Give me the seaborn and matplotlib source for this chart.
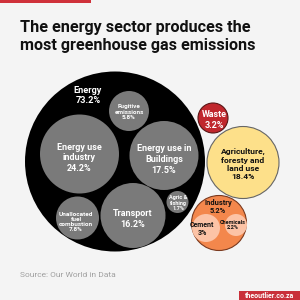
import matplotlib
matplotlib.use("Agg")
import matplotlib.pyplot as plt
import matplotlib.patches as mpatches
import seaborn as sns
import pandas as pd
import numpy as np

# ---- data ----
names = ["Energy", "Industry", "Waste", "Agriculture",
         "Fugitive", "EnergyIndustry", "Buildings", "Transport",
         "Unallocated", "Agric", "Cement", "Chemicals"]
labels = ["Energy", "Industry", "Waste", "Agriculture,\nforesty and\nland use",
          "Fugitive\nemissions", "Energy use\nindustry", "Energy use in\nBuildings",
          "Transport", "Unallocated\nfuel\ncombustion", "Agric &\nfishing",
          "Cement", "Chemicals"]
values = [73.2, 5.2, 3.2, 18.4, 5.8, 24.2, 17.5, 16.2, 7.8, 1.7, 3.0, 2.2]
value_labels = ["73.2%", "5.2%", "3.2%", "18.4%", "5.8%", "24.2%", "17.5%",
                "16.2%", "7.8%", "1.7%", "3%", "2.2%"]

title = "The energy sector produces the\nmost greenhouse gas emissions"
source = "Source: Our World in Data"
brand = "theoutlier.co.za"

# ---- layout (pixel coordinates) ----
cx = [115, 219, 213, 243, 129, 79.5, 164, 133, 77.5, 177.5, 206, 236]
cy = [161.5, 223, 118, 162.5, 111, 154, 155.5, 215.5, 218, 202, 228, 225]
rad = [90, 27.5, 15, 36, 20, 39.5, 34.5, 32.5, 21.5, 11, 14, 11]
fills = ["#000000", "#f3874c", "#c0272d", "#fde08a", "#7a7a7a", "#7a7a7a",
         "#7a7a7a", "#7a7a7a", "#7a7a7a", "#7a7a7a", "#fcc3a6", "#fcc3a6"]
edges = ["#000000", "#7a3a1f", "#5a1616", "#666666", "#7a7a7a", "#7a7a7a",
         "#7a7a7a", "#7a7a7a", "#7a7a7a", "#7a7a7a", "#fcc3a6", "#fcc3a6"]
lws = [0, 0.8, 0.8, 0.8, 0, 0, 0, 0, 0, 0, 0, 0]
lab_x = [88, 218, 214, 243, 129, 79, 164, 133, 76, 178, 202, 233]
lab_y = [95.5, 207, 120, 164, 112, 158, 159.5, 219, 222, 203, 229, 225]
lab_fs = [6.6, 5.4, 6.4, 6.1, 4.6, 6.5, 6.5, 6.5, 4.6, 4.0, 5.0, 4.0]
lab_ls = [1.2, 1.15, 1.2, 1.2, 1.1, 1.25, 1.25, 1.2, 1.05, 1.05, 1.15, 1.05]
lab_col = ["white", "#111111", "white", "#111111", "white", "white", "white",
           "white", "white", "white", "#111111", "#111111"]

DPI = 100
sns.set_theme(style="white")
plt.rcParams["font.family"] = ["Roboto", "DejaVu Sans"]

fig = plt.figure(figsize=(3, 3), dpi=DPI, facecolor="#f4f4f4")
ax = fig.add_axes([0, 0, 1, 1])
ax.set_facecolor("#f4f4f4")

df = pd.DataFrame({"name": names, "x": cx, "y": cy, "value": values})
sizes = {n: (2 * r * 72 / DPI) ** 2 for n, r in zip(names, rad)}
palette = dict(zip(names, fills))

sns.scatterplot(data=df, x="x", y="y", hue="name", size="name",
                palette=palette, sizes=sizes, edgecolor=edges,
                linewidth=lws, legend=False, ax=ax)

ax.set_xlim(0, 300)
ax.set_ylim(300, 0)
ax.set_axis_off()

for x, y, lab, vl, fs, ls, c in zip(lab_x, lab_y, labels, value_labels,
                                    lab_fs, lab_ls, lab_col):
    ax.text(x, y, lab + "\n" + vl, ha="center", va="center", fontsize=fs,
            color=c, fontweight="bold", linespacing=ls)

# top red bar
ax.add_patch(mpatches.Rectangle((0, 0), 91, 2.5, color="#cf313a", lw=0))
ax.text(20.5, 36.5, title, ha="left", va="center", fontsize=11.6,
        fontweight="bold", color="#111111", linespacing=1.22)
ax.text(20.5, 275, source, ha="left", va="center", fontsize=6.0,
        color="#a0a0a0")
ax.add_patch(mpatches.Rectangle((239, 290.5), 61, 9.5, color="#c9303a", lw=0))
ax.text(269.5, 295.5, brand, ha="center", va="center", fontsize=5.0,
        fontweight="bold", color="white")

fig.savefig("out.png", dpi=DPI, facecolor=fig.get_facecolor())
